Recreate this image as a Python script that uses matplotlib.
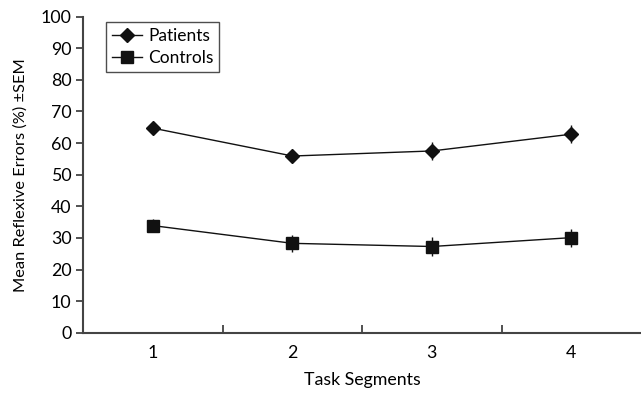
import matplotlib
matplotlib.use('Agg')
import matplotlib.pyplot as plt
import numpy as np

# ── Data ──────────────────────────────────────────────────────────────────────
segments      = [1, 2, 3, 4]
patients      = [64.7, 55.9, 57.5, 62.8]
patients_sem  = [1.5, 1.8, 2.7, 2.9]
controls      = [33.9, 28.3, 27.3, 30.1]
controls_sem  = [2.1, 2.7, 2.9, 2.8]

plt.rcParams['font.family'] = ['Lato', 'DejaVu Sans']

fig = plt.figure(figsize=(6.41, 3.93), dpi=100)
ax = fig.add_axes([0.13, 0.153, 0.87, 0.805])

ink = '#111111'
# error bars drawn separately so the legend shows only line + marker
ax.errorbar(segments, patients, yerr=patients_sem, fmt='none', ecolor=ink, elinewidth=1.0)
ax.errorbar(segments, controls, yerr=controls_sem, fmt='none', ecolor=ink, elinewidth=1.0)
ax.plot(segments, patients, color=ink, marker='D', markersize=7, linewidth=1.0, label='Patients')
ax.plot(segments, controls, color=ink, marker='s', markersize=8, linewidth=1.0, label='Controls')

ax.set_xlim(0.5, 4.5)
ax.set_ylim(0, 100)
ax.set_yticks(np.arange(0, 101, 10))
ax.set_xticks(segments)
ax.set_xticks([0.5, 1.5, 2.5, 3.5], minor=True)
ax.tick_params(axis='x', which='major', length=0, labelsize=12.8, pad=9)
ax.tick_params(axis='x', which='minor', direction='in', length=6, width=1.2, color='#333333')
ax.tick_params(axis='y', direction='out', length=5, width=1.2, color='#333333', labelsize=12.8)

for s in ['top', 'right']:
    ax.spines[s].set_visible(False)
for s in ['left', 'bottom']:
    ax.spines[s].set_linewidth(1.5)
    ax.spines[s].set_color('#444444')

ax.set_xlabel('Task Segments', fontsize=12.8, labelpad=8)
ax.set_ylabel('Mean Reflexive Errors (%) \u00b1SEM', fontsize=11.8, labelpad=9)

leg = ax.legend(loc='upper left', bbox_to_anchor=(0.035, 0.995), fontsize=12.5,
                frameon=True, fancybox=False, edgecolor='#222222',
                handlelength=1.7, handletextpad=0.35, borderpad=0.35,
                labelspacing=0.35, borderaxespad=0.2)
leg.get_frame().set_linewidth(1.0)

fig.savefig('out.png', dpi=100)
